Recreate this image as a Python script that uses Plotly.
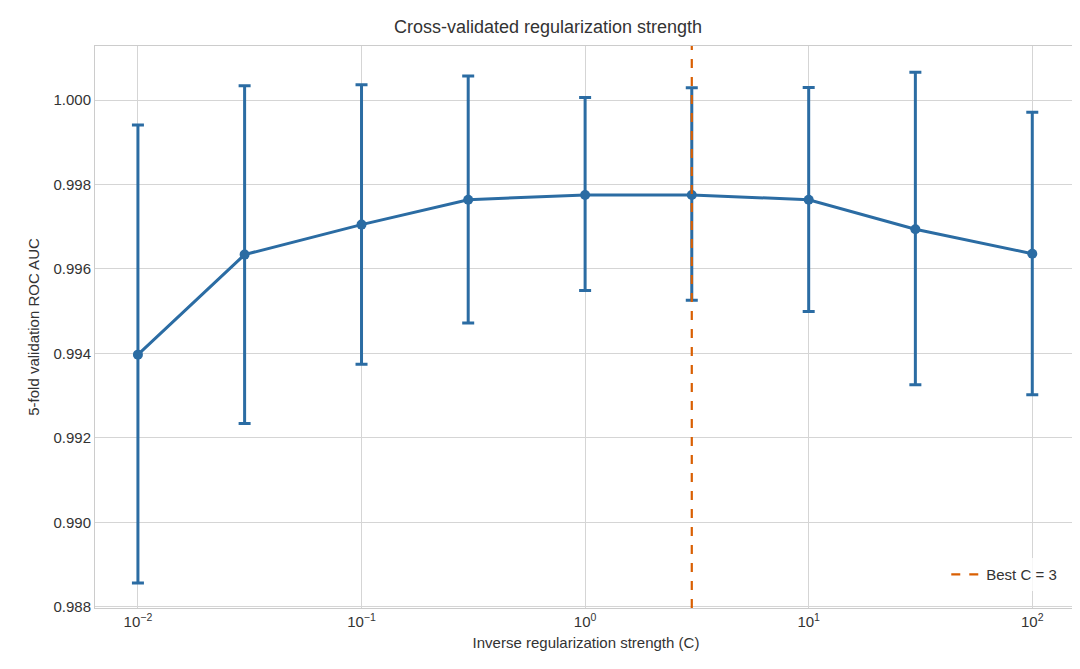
import plotly.graph_objects as go

c_values = [0.01, 0.03, 0.1, 0.3, 1, 3, 10, 30, 100]
mean_auc = [0.99397, 0.99634, 0.99705, 0.99764, 0.99775, 0.99775, 0.99764, 0.99694, 0.99636]
upper_auc = [0.99941, 1.00034, 1.00036, 1.00057, 1.00006, 1.00029, 1.00030, 1.00066, 0.99971]
lower_auc = [0.98856, 0.99234, 0.99374, 0.99472, 0.99549, 0.99526, 0.99499, 0.99326, 0.99302]
best_c = 3
x_ticks = [0.01, 0.1, 1, 10, 100]
x_tick_text = ["10<sup>−2</sup>", "10<sup>−1</sup>", "10<sup>0</sup>", "10<sup>1</sup>", "10<sup>2</sup>"]
y_ticks = [0.988, 0.990, 0.992, 0.994, 0.996, 0.998, 1.000]
y_range = [0.98797, 1.00128]

blue = "#2b6ca3"
orange = "#d95f02"

err_plus = [u - m for u, m in zip(upper_auc, mean_auc)]
err_minus = [m - l for m, l in zip(mean_auc, lower_auc)]

fig = go.Figure()
fig.add_trace(go.Scatter(
    x=c_values, y=mean_auc, mode="lines+markers",
    line=dict(color=blue, width=3), marker=dict(color=blue, size=10),
    error_y=dict(type="data", symmetric=False, array=err_plus, arrayminus=err_minus,
                 color=blue, thickness=3, width=6),
    showlegend=False,
))
fig.add_trace(go.Scatter(
    x=[best_c, best_c], y=y_range, mode="lines",
    line=dict(color=orange, width=2.2, dash="dash"), name=f"Best C = {best_c}",
))

fig.update_layout(
    width=1080, height=669,
    paper_bgcolor="white", plot_bgcolor="white",
    margin=dict(l=87, r=11, t=38, b=69, autoexpand=False),
    font=dict(family="Liberation Sans, Arial", size=15, color="#333333"),
    title=dict(text="Cross-validated regularization strength", x=0.5, xanchor="center",
               y=0.972, yanchor="middle", font=dict(size=18)),
    legend=dict(x=0.985, y=0.03, xanchor="right", yanchor="bottom",
                bgcolor="rgba(255,255,255,0.8)", font=dict(size=15)),
)
fig.update_xaxes(
    type="log", range=[-2.192, 2.2], tickvals=x_ticks, ticktext=x_tick_text,
    title=dict(text="Inverse regularization strength (C)", font=dict(size=15), standoff=8),
    showgrid=True, gridcolor="#d5d5d5", gridwidth=1, automargin=False,
    showline=True, linecolor="#cccccc", mirror=True, ticks="", zeroline=False,
)
fig.update_yaxes(
    range=y_range, tickvals=y_ticks, tickformat=".3f",
    title=dict(text="5-fold validation ROC AUC", font=dict(size=15), standoff=10),
    showgrid=True, gridcolor="#d5d5d5", gridwidth=1, automargin=False,
    showline=True, linecolor="#cccccc", mirror=True, ticks="", zeroline=False,
)

fig.write_html("out.html")
